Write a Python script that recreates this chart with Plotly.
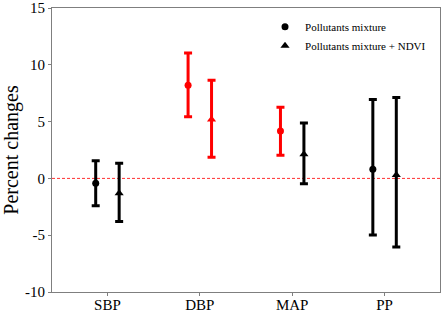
import plotly.graph_objects as go

categories = ["SBP", "DBP", "MAP", "PP"]
series_names = ["Pollutants mixture", "Pollutants mixture + NDVI"]
# Pollutants mixture
est1 = [-0.42, 8.2, 4.17, 0.81]
lo1 = [-2.41, 5.42, 2.03, -4.98]
hi1 = [1.56, 11.04, 6.27, 6.95]
col1 = ["black", "red", "red", "black"]
# Pollutants mixture + NDVI
est2 = [-1.3, 5.19, 2.12, 0.31]
lo2 = [-3.79, 1.86, -0.46, -6.04]
hi2 = [1.33, 8.64, 4.87, 7.12]
col2 = ["black", "red", "black", "black"]
ytick_vals = [-10, -5, 0, 5, 10, 15]
ytick_text = ["-10", "-5", "0", "5", "10", "15"]

FONT = "Liberation Serif"
offset = 0.127

fig = go.Figure()

series = [
    (est1, lo1, hi1, col1, "circle", -offset, 7),
    (est2, lo2, hi2, col2, "triangle-up", offset, 8),
]
for si, (est, lo, hi, cols, sym, off, msize) in enumerate(series):
    for i, cat in enumerate(categories):
        fig.add_trace(go.Scatter(
            x=[i + off], y=[est[i]],
            mode="markers",
            marker=dict(symbol=sym, size=msize, color=cols[i]),
            error_y=dict(type="data", symmetric=False,
                         array=[hi[i] - est[i]], arrayminus=[est[i] - lo[i]],
                         color=cols[i], thickness=3, width=4),
            showlegend=False, hoverinfo="skip",
        ))
    fig.add_trace(go.Scatter(
        x=[None], y=[None], mode="markers", name=series_names[si],
        marker=dict(symbol=sym, size=msize, color="black"),
        showlegend=True,
    ))

fig.add_shape(type="line", xref="paper", x0=0, x1=1, yref="y", y0=0, y1=0,
              line=dict(color="#ff3030", width=1, dash="3px,2px"), layer="below")

fig.update_layout(
    width=447, height=314,
    margin=dict(l=52, r=7, t=8, b=22),
    paper_bgcolor="white", plot_bgcolor="white",
    font=dict(family=FONT, color="black"),
    legend=dict(x=0.549, y=0.985, xanchor="left", yanchor="top",
                font=dict(family=FONT, size=11, color="black"),
                bgcolor="rgba(0,0,0,0)", itemwidth=30, tracegroupgap=0),
    xaxis=dict(range=[-0.6, 3.6], tickvals=list(range(len(categories))),
               ticktext=categories, showgrid=False, zeroline=False,
               showline=True, linecolor="#7f7f7f", linewidth=1, mirror=True,
               ticks="outside", ticklen=3, tickcolor="#7f7f7f", automargin=False,
               ticklabelstandoff=-4,
               tickfont=dict(family=FONT, size=15, color="black")),
    yaxis=dict(range=[-10, 15], tickvals=ytick_vals, ticktext=ytick_text,
               showgrid=False, zeroline=False,
               showline=True, linecolor="#7f7f7f", linewidth=1, mirror=True,
               ticks="outside", ticklen=3, tickcolor="#7f7f7f", automargin=False,
               tickfont=dict(family=FONT, size=15, color="black"),
               title=dict(text="Percent changes", standoff=8,
                          font=dict(family=FONT, size=20, color="black"))),
)

fig.write_html("out.html", config={"displayModeBar": False},
               post_script="document.body.style.margin='0';")
